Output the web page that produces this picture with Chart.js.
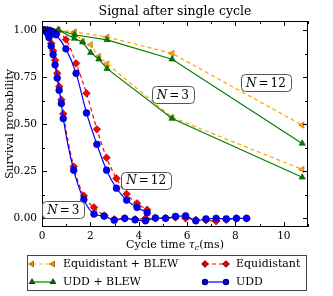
<!DOCTYPE html>
<html>
<head>
<meta charset="utf-8">
<script src="https://cdn.jsdelivr.net/npm/chart.js@4"></script>
<style>
  html, body { margin: 0; padding: 0; background: #fff; }
  canvas { display: block; }
</style>
</head>
<body>
<canvas id="chart" width="333" height="296"></canvas>
<script>
// cycle times (ms)
const tauN3 = [0.04, 0.12, 0.21, 0.29, 0.38, 0.46, 0.54, 0.63, 0.71, 0.80, 0.88, 1.31, 1.73, 2.15, 2.57, 2.99, 3.42, 3.85, 4.28, 4.69, 5.11, 5.52, 5.94, 6.36, 6.78, 7.20, 7.62, 8.04, 8.46];
const tauN12 = [0.05, 0.14, 0.23, 0.32, 0.41, 0.50, 0.58, 0.99, 1.41, 1.84, 2.27, 2.67, 3.08, 3.50, 3.93, 4.35];
const tauBlewN3 = [0.67, 1.34, 1.68, 2.01, 2.35, 2.69, 5.38, 10.76];
const tauBlewN12 = [0.67, 1.34, 2.69, 5.38, 10.76];

// survival probability
const uddN3 = [1.0, 0.997, 0.985, 0.96, 0.915, 0.87, 0.815, 0.745, 0.68, 0.61, 0.53, 0.256, 0.10, 0.023, 0.012, -0.01, 0.0, -0.008, -0.013, 0.002, 0.0, 0.01, 0.013, -0.013, -0.003, 0.0, -0.003, 0.0, 0.0];
const equiN3 = [1.0, 0.998, 0.99, 0.97, 0.93, 0.89, 0.84, 0.77, 0.70, 0.63, 0.555, 0.275, 0.12, 0.058, 0.015, -0.005, 0.0, -0.005, 0.0, 0.0, 0.002, 0.005, 0.0, -0.008, -0.01, -0.015, -0.008, 0.0, 0.0];
const uddN12 = [1.0, 1.0, 0.998, 0.995, 0.99, 0.984, 0.975, 0.90, 0.77, 0.56, 0.393, 0.256, 0.16, 0.097, 0.058, 0.03];
const equiN12 = [1.0, 1.0, 1.0, 0.998, 0.995, 0.99, 0.986, 0.95, 0.823, 0.664, 0.473, 0.322, 0.212, 0.129, 0.08, 0.046];
const uddBlewN3 = [1.0, 0.955, 0.935, 0.88, 0.845, 0.795, 0.53, 0.218];
const equiBlewN3 = [1.0, 0.985, 0.94, 0.922, 0.86, 0.82, 0.536, 0.26];
const uddBlewN12 = [1.0, 0.975, 0.948, 0.845, 0.398];
const equiBlewN12 = [1.0, 0.99, 0.963, 0.876, 0.495];

const xTicks = [0, 2, 4, 6, 8, 10];
const yTicks = [0, 0.25, 0.5, 0.75, 1.0];

const FONT = '"DejaVu Serif", serif';

const styles = {
  udd:      { label: 'UDD', color: '#0000ff', edge: '#00006e', dash: [], point: 'circle', r: 3.4, rot: 0, smooth: true },
  uddBlew:  { label: 'UDD + BLEW', color: '#008000', edge: '#004d00', dash: [], point: 'triangle', r: 3.6, rot: 0, smooth: false },
  equi:     { label: 'Equidistant', color: '#ff0000', edge: '#8b0000', dash: [4, 3], point: 'rectRot', r: 3.8, rot: 0, smooth: true },
  equiBlew: { label: 'Equidistant + BLEW', color: '#ffa500', edge: '#b36b00', dash: [4, 3], point: 'triangle', r: 3.6, rot: -90, smooth: false }
};

function series(key, xs, ys) {
  const s = styles[key];
  return {
    label: s.label,
    data: xs.map((x, i) => ({ x: x, y: ys[i] })),
    borderColor: s.color,
    backgroundColor: s.color,
    borderWidth: 1.2,
    borderDash: s.dash,
    pointStyle: s.point,
    pointRadius: s.r,
    pointRotation: s.rot,
    pointBackgroundColor: s.color,
    pointBorderColor: s.edge,
    pointBorderWidth: 0.6,
    cubicInterpolationMode: s.smooth ? 'monotone' : 'default',
    tension: 0
  };
}

// first dataset is drawn on top
const datasets = [
  series('udd', tauN3, uddN3),
  series('udd', tauN12, uddN12),
  series('uddBlew', tauBlewN3, uddBlewN3),
  series('uddBlew', tauBlewN12, uddBlewN12),
  series('equi', tauN3, equiN3),
  series('equi', tauN12, equiN12),
  series('equiBlew', tauBlewN3, equiBlewN3),
  series('equiBlew', tauBlewN12, equiBlewN12)
];

const notes = [
  { text: '3', x: 5.41, y: 0.657 },
  { text: '12', x: 9.26, y: 0.72 },
  { text: '12', x: 4.31, y: 0.203 },
  { text: '3', x: 0.88, y: 0.047 }
];

function roundRect(ctx, x, y, w, h, r) {
  ctx.beginPath();
  ctx.moveTo(x + r, y);
  ctx.arcTo(x + w, y, x + w, y + h, r);
  ctx.arcTo(x + w, y + h, x, y + h, r);
  ctx.arcTo(x, y + h, x, y, r);
  ctx.arcTo(x, y, x + w, y, r);
  ctx.closePath();
}

const decor = {
  id: 'decor',
  afterDraw(chart) {
    const { ctx, chartArea: a, scales } = chart;
    const sx = scales.x, sy = scales.y;
    ctx.save();

    // frame and inward ticks on all sides
    ctx.strokeStyle = '#000';
    ctx.lineWidth = 1;
    ctx.strokeRect(Math.round(a.left) + 0.5, Math.round(a.top) + 0.5,
                   Math.round(a.width) - 1, Math.round(a.height) - 1);
    ctx.beginPath();
    for (let v = 0; v <= 11; v++) {
      const px = Math.round(sx.getPixelForValue(v)) + 0.5;
      const len = v % 2 === 0 ? 5 : 3;
      ctx.moveTo(px, a.bottom); ctx.lineTo(px, a.bottom - len);
      ctx.moveTo(px, a.top); ctx.lineTo(px, a.top + len);
    }
    for (let k = 0; k <= 8; k++) {
      const v = k * 0.125;
      const py = Math.round(sy.getPixelForValue(v)) + 0.5;
      const len = k % 2 === 0 ? 5 : 3;
      ctx.moveTo(a.left, py); ctx.lineTo(a.left + len, py);
      ctx.moveTo(a.right, py); ctx.lineTo(a.right - len, py);
    }
    ctx.stroke();

    ctx.fillStyle = '#000';
    ctx.textBaseline = 'middle';

    // title
    ctx.textAlign = 'center';
    ctx.font = '12.5px ' + FONT;
    ctx.fillText('Signal after single cycle', (a.left + a.right) / 2, 12);

    // y label
    ctx.save();
    ctx.translate(10, (a.top + a.bottom) / 2);
    ctx.rotate(-Math.PI / 2);
    ctx.font = '11px ' + FONT;
    ctx.fillText('Survival probability', 0, 0);
    ctx.restore();

    // x label with subscript
    ctx.textAlign = 'left';
    const parts = [
      { t: 'Cycle time ', f: '11px ' + FONT, dy: 0 },
      { t: 'τ', f: 'italic 11px ' + FONT, dy: 0 },
      { t: 'c', f: 'italic 8px ' + FONT, dy: 3 },
      { t: '(ms)', f: '11px ' + FONT, dy: 0 }
    ];
    let total = 0;
    parts.forEach(p => { ctx.font = p.f; p.w = ctx.measureText(p.t).width; total += p.w; });
    let cx = (a.left + a.right) / 2 - total / 2;
    parts.forEach(p => { ctx.font = p.f; ctx.fillText(p.t, cx, 245 + p.dy); cx += p.w; });

    // N labels
    notes.forEach(n => {
      const px = sx.getPixelForValue(n.x), py = sy.getPixelForValue(n.y);
      ctx.font = 'italic 12px ' + FONT;
      const wN = ctx.measureText('N').width;
      ctx.font = '12px ' + FONT;
      const wEq = ctx.measureText('=').width;
      const wNum = ctx.measureText(n.text).width;
      const w = wN + wEq + wNum + 4;
      const bw = w + 10, bh = 17;
      ctx.fillStyle = '#fff';
      ctx.strokeStyle = '#555';
      roundRect(ctx, Math.round(px - bw / 2) + 0.5, Math.round(py - bh / 2) + 0.5, Math.round(bw), bh, 4);
      ctx.fill(); ctx.stroke();
      ctx.fillStyle = '#000';
      let tx = px - w / 2;
      ctx.font = 'italic 12px ' + FONT; ctx.fillText('N', tx, py + 1); tx += wN + 2;
      ctx.font = '12px ' + FONT; ctx.fillText('=', tx, py + 1); tx += wEq + 2;
      ctx.fillText(n.text, tx, py + 1);
    });

    // legend
    ctx.strokeStyle = '#444';
    ctx.lineWidth = 1;
    ctx.strokeRect(27.5, 255.5, 279, 35);
    const entries = [
      { s: styles.equiBlew, x: 32, y: 264 },
      { s: styles.equi, x: 205, y: 264 },
      { s: styles.uddBlew, x: 32, y: 282 },
      { s: styles.udd, x: 205, y: 282 }
    ];
    entries.forEach(e => {
      ctx.strokeStyle = e.s.color;
      ctx.lineWidth = 1.2;
      ctx.setLineDash(e.s.dash);
      ctx.beginPath();
      ctx.moveTo(e.x, e.y); ctx.lineTo(e.x + 21, e.y);
      ctx.stroke();
      ctx.setLineDash([]);
      const opts = { pointStyle: e.s.point, radius: e.s.r - 0.8, rotation: e.s.rot, borderWidth: 0.6 };
      ctx.fillStyle = e.s.color;
      ctx.strokeStyle = e.s.edge;
      Chart.helpers.drawPoint(ctx, opts, e.x, e.y);
      Chart.helpers.drawPoint(ctx, opts, e.x + 21, e.y);
      ctx.fillStyle = '#000';
      ctx.font = '11px ' + FONT;
      ctx.textAlign = 'left';
      ctx.fillText(e.s.label, e.x + 31, e.y);
    });

    ctx.restore();
  }
};

new Chart(document.getElementById('chart'), {
  type: 'line',
  data: { datasets: datasets },
  options: {
    responsive: false,
    animation: false,
    events: [],
    layout: { padding: { left: 0, right: 25, top: 21, bottom: 0 } },
    plugins: {
      legend: { display: false },
      title: { display: false },
      tooltip: { enabled: false }
    },
    scales: {
      x: {
        type: 'linear',
        min: 0,
        max: 11,
        afterFit: s => { s.height = 69; },
        afterBuildTicks: s => { s.ticks = xTicks.map(v => ({ value: v })); },
        grid: { display: false, drawTicks: false },
        border: { display: false },
        ticks: { color: '#000', padding: 3, maxRotation: 0, font: { family: FONT, size: 10.5 } }
      },
      y: {
        type: 'linear',
        min: -0.046,
        max: 1.048,
        afterFit: s => { s.width = 42; },
        afterBuildTicks: s => { s.ticks = yTicks.map(v => ({ value: v })); },
        grid: { display: false, drawTicks: false },
        border: { display: false },
        ticks: {
          color: '#000',
          padding: 5,
          font: { family: FONT, size: 10.5 },
          callback: v => Number(v).toFixed(2)
        }
      }
    }
  },
  plugins: [decor]
});
</script>
</body>
</html>
